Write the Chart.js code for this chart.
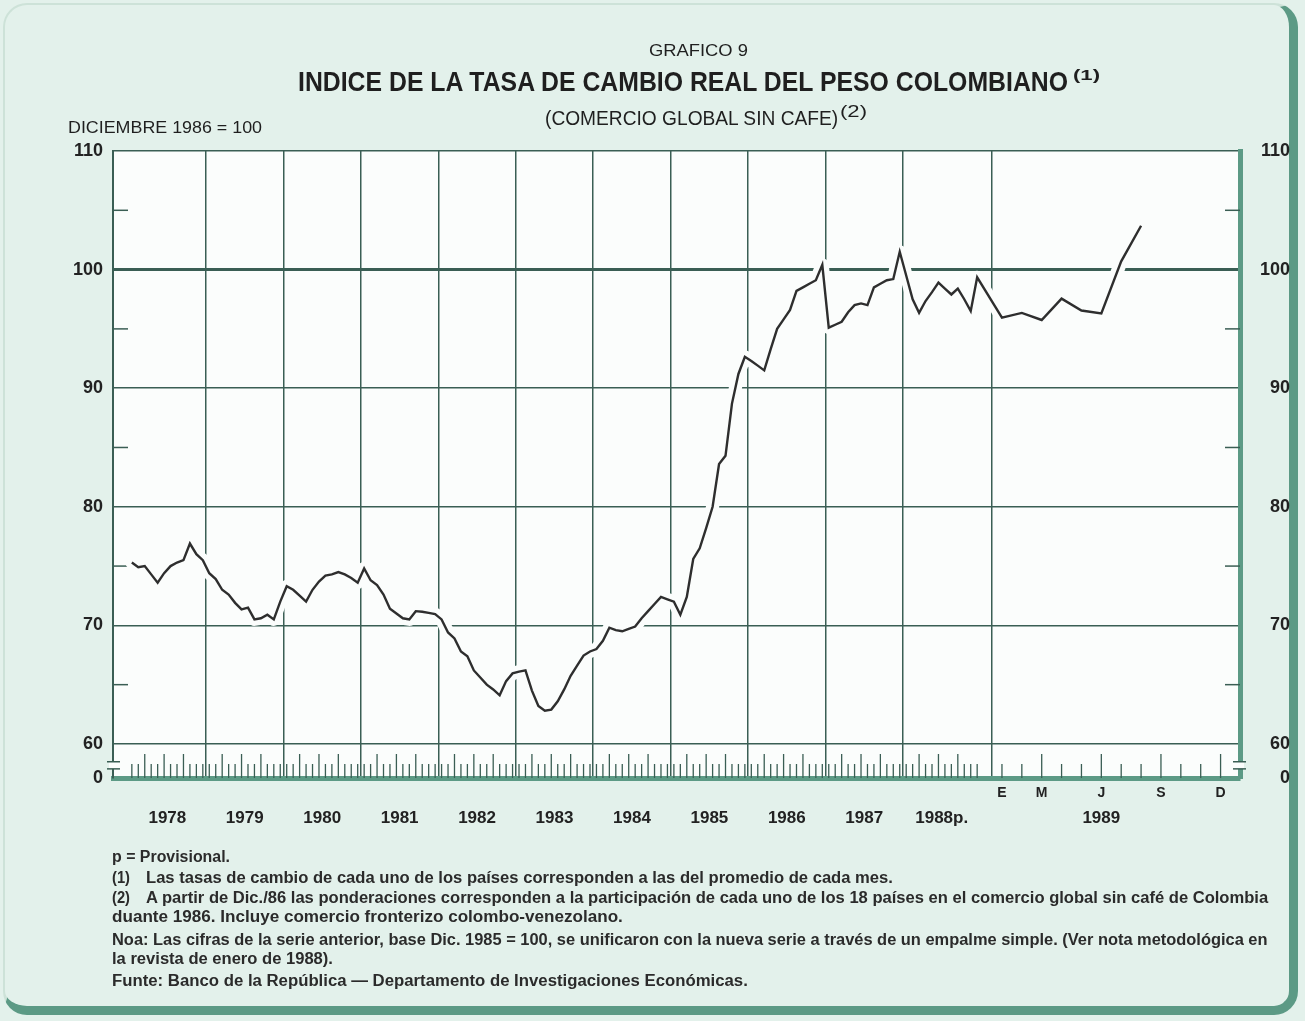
<!DOCTYPE html>
<html>
<head>
<meta charset="utf-8">
<script src="https://cdn.jsdelivr.net/npm/chart.js@4.4.1/dist/chart.umd.min.js"></script>
<style>
  html, body { margin: 0; padding: 0; }
  body { width: 1305px; height: 1021px; background: #e3f1eb; position: relative; overflow: hidden;
         font-family: "Liberation Sans", Arial, sans-serif; color: #1f1f1f; }
  #marco { position: absolute; left: 3px; top: 3px; width: 1284px; height: 1001px; border-radius: 24px;
           border-top: 2px solid #cde2d8; border-left: 2px solid #cde2d8;
           border-right: 9px solid #5c9a85; border-bottom: 9px solid #5c9a85; }
  #grafico { position: absolute; left: 0; top: 0; }
  .t { position: absolute; white-space: nowrap; line-height: 1; transform-origin: 0 0; }
  .nota { font-size: 16px; font-weight: bold; color: #2b2b2b; }
</style>
</head>
<body>
<div id="marco"></div>
<canvas id="grafico" width="1305" height="1021"></canvas>

<div class="t" style="left:649px;top:42px;font-size:17px" data-w="99">GRAFICO 9</div>
<div class="t" style="left:298px;top:68px;font-size:28px;font-weight:bold" data-w="770">INDICE DE LA TASA DE CAMBIO REAL DEL PESO COLOMBIANO</div>
<div class="t" style="left:1073px;top:67px;font-size:15px;font-weight:bold" data-w="27">(1)</div>
<div class="t" style="left:545px;top:108px;font-size:20px" data-w="293">(COMERCIO GLOBAL SIN CAFE)</div>
<div class="t" style="left:840px;top:104px;font-size:16px" data-w="27">(2)</div>
<div class="t" style="left:68px;top:120px;font-size:16px" data-w="194">DICIEMBRE 1986 = 100</div>

<div class="t nota" style="left:112px;top:849px" data-w="118">p = Provisional.</div>
<div class="t nota" style="left:112px;top:870px" data-w="18">(1)</div>
<div class="t nota" style="left:146px;top:870px" data-w="747">Las tasas de cambio de cada uno de los países corresponden a las del promedio de cada mes.</div>
<div class="t nota" style="left:112px;top:890px" data-w="18">(2)</div>
<div class="t nota" style="left:146px;top:890px" data-w="1122">A partir de Dic./86 las ponderaciones corresponden a la participación de cada uno de los 18 países en el comercio global sin café de Colombia</div>
<div class="t nota" style="left:112px;top:909px" data-w="511">duante 1986. Incluye comercio fronterizo colombo-venezolano.</div>
<div class="t nota" style="left:112px;top:932px" data-w="1156">Noa: Las cifras de la serie anterior, base Dic. 1985 = 100, se unificaron con la nueva serie a través de un empalme simple. (Ver nota metodológica en</div>
<div class="t nota" style="left:112px;top:951px" data-w="221">la revista de enero de 1988).</div>
<div class="t nota" style="left:112px;top:973px" data-w="636">Funte: Banco de la República — Departamento de Investigaciones Económicas.</div>

<script>
// indice mensual, diciembre 1986 = 100 (enero 1978 - diciembre 1988)
const valores7888 = [
  75.3, 74.9, 75.0, 74.3, 73.6, 74.4, 75.0, 75.3, 75.5, 76.9, 76.0, 75.5,   // 1978
  74.4, 73.9, 73.0, 72.6, 71.9, 71.35, 71.5, 70.5, 70.6, 70.9, 70.5, 72.0,  // 1979
  73.3, 73.0, 72.5, 72.0, 73.0, 73.7, 74.2, 74.3, 74.5, 74.3, 74.0, 73.6,   // 1980
  74.8, 73.8, 73.4, 72.6, 71.4, 71.0, 70.6, 70.5, 71.2, 71.15, 71.05, 70.95, // 1981
  70.5, 69.4, 68.9, 67.8, 67.4, 66.2, 65.6, 65.0, 64.6, 64.1, 65.3, 65.95,  // 1982
  66.1, 66.2, 64.5, 63.2, 62.8, 62.9, 63.6, 64.6, 65.75, 66.6, 67.45, 67.8, // 1983
  68.0, 68.7, 69.8, 69.6, 69.5, 69.7, 69.9, 70.6, 71.2, 71.8, 72.4, 72.2,   // 1984
  72.0, 70.9, 72.4, 75.6, 76.5, 78.2, 80.0, 83.6, 84.3, 88.7, 91.2, 92.65,  // 1985
  92.3, 91.9, 91.5, 93.3, 95.0, 95.8, 96.6, 98.2, 98.5, 98.8, 99.1, 100.4,  // 1986
  95.1, 95.35, 95.6, 96.4, 97.0, 97.15, 97.0, 98.5, 98.8, 99.1, 99.2, 101.5, // 1987
  99.5, 97.5, 96.35, 97.35, 98.1, 98.9, 98.4, 97.9, 98.4, 97.5, 96.5, 99.35 // 1988
];
// 1989, enero - agosto (escala ampliada)
const valores1989 = [95.95, 96.35, 95.75, 97.55, 96.55, 96.3, 100.7, 103.7];

const anios = ['1978', '1979', '1980', '1981', '1982', '1983', '1984', '1985', '1986', '1987', '1988p.', '1989'];
const meses1989 = ['E', 'F', 'M', 'A', 'M', 'J', 'J', 'A', 'S', 'O', 'N', 'D'];
const mesesRotulados = [0, 2, 5, 8, 11];
const marcasY = [60, 70, 80, 90, 100, 110];
const marcasMenores = [65, 75, 85, 95, 105];

// eje x en "meses": 1978-1988 un mes = 1, en 1989 el mes se amplia
const INICIO_1989 = 133.8;
const MES_1989 = 3.08;
const X_MIN = -2.42, X_MAX = 172.23;
const Y_MIN = 57.13; // borde inferior (corte del eje hasta 0)

const posMes = i => i + 0.5;
const pos1989 = k => INICIO_1989 + MES_1989 * (k + 0.5);

const serie = valores7888.map((v, i) => ({x: posMes(i), y: v}))
  .concat(valores1989.map((v, k) => ({x: pos1989(k), y: v})));

const limitesAnio = [12, 24, 36, 48, 60, 72, 84, 96, 108, 120, INICIO_1989];
const centrosAnio = anios.map((a, j) => j < 11 ? j * 12 + 6 : pos1989(5));

const VERDE = '#5c9a85';
const REJILLA = '#3a5e54';
const PAPEL = '#fbfdfc';
const FUENTE = '"Liberation Sans", Arial, sans-serif';

function linea(ctx, x1, y1, x2, y2) {
  ctx.beginPath(); ctx.moveTo(x1, y1); ctx.lineTo(x2, y2); ctx.stroke();
}

const papel = {
  id: 'papel',
  beforeDraw(chart) {
    const {ctx, chartArea: a} = chart;
    ctx.save();
    ctx.fillStyle = PAPEL;
    ctx.fillRect(a.left, a.top, a.right - a.left, a.bottom - a.top);
    ctx.restore();
  },
  beforeDatasetsDraw(chart) {
    const {ctx, chartArea: a, scales} = chart;
    ctx.save();
    ctx.strokeStyle = REJILLA;
    ctx.lineWidth = 1.5;
    marcasMenores.forEach(v => {
      const py = scales.y.getPixelForValue(v);
      linea(ctx, a.left, py, a.left + 15, py);
      linea(ctx, a.right - 15, py, a.right, py);
    });
    // peine de meses sobre el borde inferior
    ctx.lineWidth = 1.3;
    valores7888.forEach((v, i) => {
      const px = scales.x.getPixelForValue(posMes(i));
      const m = i % 12;
      const h = (m === 2 || m === 5 || m === 8) ? 24 : 14;
      linea(ctx, px, a.bottom, px, a.bottom - h);
    });
    meses1989.forEach((m, k) => {
      const px = scales.x.getPixelForValue(pos1989(k));
      linea(ctx, px, a.bottom, px, a.bottom - (k % 3 === 2 ? 24 : 14));
    });
    ctx.restore();
  },
  afterDraw(chart) {
    const {ctx, chartArea: a, scales} = chart;
    const y1 = scales.y.getPixelForValue(58.5), y2 = scales.y.getPixelForValue(57.9);
    ctx.save();
    ctx.fillStyle = PAPEL;
    ctx.fillRect(a.left - 4, y1, 8, y2 - y1);
    ctx.fillRect(a.right - 4, y1, 8, y2 - y1);
    ctx.strokeStyle = REJILLA;
    ctx.lineWidth = 1.5;
    [y1, y2].forEach(py => {
      linea(ctx, a.left - 6, py, a.left + 7, py);
      linea(ctx, a.right - 7, py, a.right + 6, py);
    });
    ctx.restore();
  }
};

const etiquetaY = v => (Math.abs(v - Y_MIN) < 0.01 ? '0' : (v % 10 === 0 ? String(v) : ''));
const ticksY = s => { s.ticks = [Y_MIN].concat(marcasY, marcasMenores).sort((a, b) => a - b).map(v => ({value: v})); };
const fuenteEje = {family: FUENTE, size: 18, weight: 'bold'};

new Chart(document.getElementById('grafico').getContext('2d'), {
  type: 'line',
  data: {
    datasets: [{
      label: 'Indice',
      data: serie,
      borderColor: '#2e2e2e',
      borderWidth: 2.4,
      pointRadius: 0,
      tension: 0,
      order: 0
    }, {
      label: 'halo',
      data: serie,
      borderColor: PAPEL,
      borderWidth: 13,
      borderJoinStyle: 'round',
      borderCapStyle: 'round',
      pointRadius: 0,
      tension: 0,
      order: 1
    }]
  },
  options: {
    responsive: false,
    animation: false,
    events: [],
    layout: {padding: {left: 0, right: 15, top: 151, bottom: 175}},
    plugins: {legend: {display: false}, tooltip: {enabled: false}},
    scales: {
      x: {
        type: 'linear', position: 'bottom', weight: 0, min: X_MIN, max: X_MAX,
        afterBuildTicks: s => { s.ticks = limitesAnio.map(v => ({value: v})); },
        afterFit: s => { s.height = 0; },
        ticks: {display: false},
        grid: {color: REJILLA, lineWidth: 1.5, drawTicks: false},
        border: {display: true, color: VERDE, width: 5}
      },
      xm: {
        type: 'linear', position: 'bottom', weight: 1, min: X_MIN, max: X_MAX,
        afterBuildTicks: s => { s.ticks = mesesRotulados.map(k => ({value: pos1989(k)})); },
        afterFit: s => { s.height = 28; },
        ticks: {autoSkip: false, maxRotation: 0, padding: 7, color: '#222',
                font: {family: FUENTE, size: 14, weight: 'bold'},
                callback: (v, i) => meses1989[mesesRotulados[i]]},
        grid: {display: false, drawTicks: false},
        border: {display: false}
      },
      xy: {
        type: 'linear', position: 'bottom', weight: 2, min: X_MIN, max: X_MAX,
        afterBuildTicks: s => { s.ticks = centrosAnio.map(v => ({value: v})); },
        afterFit: s => { s.height = 40; },
        ticks: {autoSkip: false, maxRotation: 0, padding: 2, color: '#222',
                font: {family: FUENTE, size: 17, weight: 'bold'},
                callback: (v, i) => anios[i]},
        grid: {display: false, drawTicks: false},
        border: {display: false}
      },
      y: {
        type: 'linear', position: 'left', min: Y_MIN, max: 110,
        afterBuildTicks: ticksY,
        afterFit: s => { s.width = 113; },
        ticks: {padding: 10, color: '#222', font: fuenteEje, callback: etiquetaY},
        grid: {
          drawTicks: false,
          color: c => (c.tick && c.tick.value % 10 === 0 ? REJILLA : 'rgba(0,0,0,0)'),
          lineWidth: c => (c.tick && c.tick.value === 100 ? 3 : 1.5)
        },
        border: {display: true, color: REJILLA, width: 2}
      },
      y2: {
        type: 'linear', position: 'right', min: Y_MIN, max: 110,
        afterBuildTicks: ticksY,
        afterFit: s => { s.width = 50; },
        ticks: {crossAlign: 'far', color: '#222', font: fuenteEje, callback: etiquetaY},
        grid: {drawTicks: false, color: 'rgba(0,0,0,0)'},
        border: {display: true, color: VERDE, width: 5}
      }
    }
  },
  plugins: [papel]
});

// ajustar el ancho de los textos al original
document.querySelectorAll('[data-w]').forEach(el => {
  const w = el.getBoundingClientRect().width;
  el.style.transform = 'scaleX(' + (parseFloat(el.dataset.w) / w).toFixed(3) + ')';
});
</script>
</body>
</html>
